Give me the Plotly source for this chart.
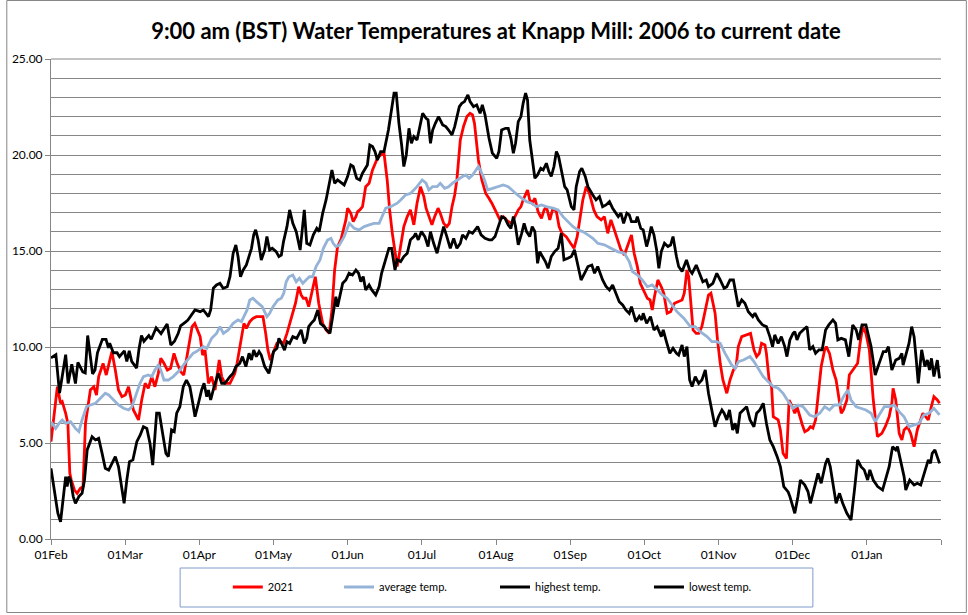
import plotly.graph_objects as go

TITLE = "9:00 am (BST) Water Temperatures at Knapp Mill: 2006 to current date"
TICK_LABELS = ["01Feb", "01Mar", "01Apr", "01May", "01Jun", "01Jul", "01Aug",
               "01Sep", "01Oct", "01Nov", "01Dec", "01Jan", ""]
SERIES_NAMES = ["2021", "average temp.", "highest temp.", "lowest temp."]

# ---- highest temp. (day index from 01Feb, value) ----
HI_DAY = [0, 2, 3.5, 6, 7, 8.5, 10, 11, 13, 14, 15, 17, 18, 19, 21, 22.5, 23.5, 24, 25.5, 27, 28, 30, 31, 32, 33, 35, 36, 37, 38, 40, 41, 43, 45, 46, 47.5, 49, 50.5, 52, 53, 55, 56,
          58.9, 61, 62.3, 64.4, 65.3, 66.4, 67.7, 69.1, 70.4, 72.1, 73.2, 74.5, 75.6, 76.5, 77.5, 78.6, 79.9, 81, 82, 82.9, 83.7, 84.7, 86, 87.4, 88.3, 89.4, 90.5, 92.1, 93.2, 94.2, 95.1, 96.5, 97.6, 98.9, 100.3, 101.9, 103.6, 104.6, 105.9, 107.3, 108.7, 109.7, 111.1, 112.5, 113.8, 114.9, 116, 117.2,
          119.9, 121.3, 122.6, 123.6, 125, 126.3, 127.4, 128.5, 129.4, 130.4, 131.5, 132.5, 133.5, 134.8, 136.2, 138, 139.3, 140.3, 141.2, 142.3, 143.4, 144.3, 145.3, 146.4, 147.4, 148.4, 149.7, 151.1, 152, 153.4, 154.2, 155.2, 156.1, 157.2, 158.5, 160.2, 161.5, 162.6, 164, 165.1, 166, 167, 168, 169.1, 170.5, 171.4, 172.8, 174.1, 175.5, 176.4, 177.5, 179.1, 180.5,
          181.3, 182.3, 183.2, 184.3, 185.9, 187, 188.1, 189.1, 190, 191.1, 192.2, 193.1, 194.1, 194.9, 195.8, 196.5, 197.9, 199, 200.3, 201.3, 202.6, 203.6, 204.6, 205.7, 206.7, 207.6, 208.7, 210.1, 211.1, 212.8, 213.9, 214.8, 216.2, 217.1, 218.5, 219.6, 221.6, 222.9, 224.3, 225.6, 227, 228.4, 229.7, 231.1, 232, 233.1, 234.2, 235.5, 236.5, 237.4, 239.2,
          239.8, 241.2, 242.2, 243.6, 244.5, 245.5, 246.6, 247.7, 248.6, 249.6, 250.9, 252.3, 253.4, 254.4, 255.8, 256.7, 258.1, 259.9, 261.2, 262.2, 263.9, 265.3, 266.6, 268, 268.9, 270.7, 272.3, 273.7, 275.3, 276.4, 277.7, 279.1, 280.2, 281.1, 282.5, 283.8, 285.2, 287, 287.9, 289.3, 291, 292.6, 294, 295.1, 296, 297.4, 298.7, 300.1, 301,
          302.2, 303.5, 304.2, 305.1, 306.2, 307.6, 309.2, 310.3, 311.6, 312.7, 314.1, 315.4, 316.8, 318.1, 319.8, 320.9, 321.8, 323.2, 324.9, 326.3, 327.9, 329.3, 330.3, 331.7, 333.3, 335.4, 336.3, 337.1, 338.7, 340.4, 341.5, 342.5, 343.9, 345.5, 346.9, 348, 348.5, 349.9, 350.9, 352, 353, 353.9, 354.7, 356.1, 357.4, 358.4, 359.3, 360.1, 361.1, 362.5, 363.4]
HI_VAL = [9.43, 9.6, 7.6, 9.6, 8.1, 9.1, 8.1, 9.2, 8.7, 8.65, 10.6, 8.6, 8.8, 9.7, 10.4, 10.4, 9.95, 10.2, 9.7, 9.7, 9.5, 9.8, 9.25, 9.8, 9.25, 8.9, 9.9, 10.6, 10.3, 10.6, 10.4, 11.0, 10.7, 10.9, 11.2, 10.1, 10.3, 10.7, 11.1, 11.3, 11.4,
          11.93, 11.84, 11.93, 11.58, 11.93, 13.06, 13.23, 13.32, 13.06, 13.14, 13.66, 14.88, 15.31, 14.71, 13.66, 14.01, 14.27, 14.79, 15.14, 15.84, 16.1, 15.58, 14.53, 15.05, 15.75, 15.05, 15.14, 14.97, 14.71, 14.79, 15.49, 16.27, 17.14, 16.44, 16.01, 15.05, 17.14, 15.4, 15.31, 15.84, 16.18, 16.01, 16.96, 17.66, 18.53, 19.22, 18.53, 18.7,
          18.44, 18.88, 19.48, 19.4, 18.79, 18.7, 19.05, 19.31, 19.48, 20.52, 20.44, 20.18, 19.74, 20.18, 20.18, 21.3, 22.52, 23.22, 23.22, 21.65, 20.52, 19.4, 20.0, 21.39, 20.61, 20.96, 20.78, 21.65, 22.17, 21.91, 21.83, 20.61, 21.3, 21.65, 22.0, 21.57, 21.48, 21.3, 21.05, 21.48, 21.91, 22.52, 22.69, 22.78, 23.13, 22.78, 22.52, 22.61, 22.17, 22.61, 22.09, 20.9, 20.1,
          20.0, 19.83, 20.18, 21.3, 21.39, 21.39, 20.87, 20.09, 20.61, 21.74, 22.0, 22.69, 23.22, 22.87, 20.78, 20.09, 18.79, 18.96, 19.31, 19.22, 19.57, 19.14, 18.88, 19.4, 20.18, 19.92, 19.22, 18.35, 18.18, 17.31, 17.14, 18.35, 19.14, 19.31, 18.88, 18.35, 17.92, 17.66, 17.83, 17.31, 17.4, 17.57, 17.23, 16.97, 16.79, 16.97, 16.44, 16.97, 16.88, 16.53, 16.53,
          16.79, 16.18, 16.1, 15.23, 15.66, 16.27, 15.84, 15.05, 14.1, 14.97, 15.4, 15.23, 15.31, 15.75, 14.71, 14.19, 13.93, 14.53, 14.01, 13.84, 14.27, 13.84, 13.4, 13.49, 13.14, 13.32, 13.84, 13.49, 13.06, 13.14, 13.49, 13.49, 12.8, 12.1, 12.45, 12.28, 11.84, 11.58, 11.76, 11.41, 11.15, 11.06, 10.54, 10.02, 10.63, 10.19, 10.54, 10.02, 9.5,
          10.37, 10.71, 10.8, 10.37, 10.71, 10.89, 11.06, 9.85, 10.02, 9.67, 9.85, 9.85, 10.89, 11.15, 11.41, 11.23, 10.37, 10.45, 10.37, 9.5, 11.15, 10.89, 10.37, 11.15, 11.15, 10.02, 9.32, 8.54, 9.15, 9.76, 9.76, 10.02, 8.8, 9.32, 9.41, 9.67, 9.06, 9.67, 10.19, 11.06, 10.54, 9.32, 8.11, 9.85, 8.98, 9.32, 8.8, 9.41, 8.46, 9.32, 8.37]

# ---- 2021 ----
Y21_DAY = [0, 2.6, 3.9, 4.6, 6, 6.9, 7.7, 8.3, 9.6, 10.7, 12, 13.1, 14.1, 16.1, 17.5, 18.6, 19.5, 21.3, 22.6, 23.6, 24.9, 26.3, 27.6, 29, 30.4, 31.7, 33.7, 35.8, 37.1, 38.5, 39.8, 41.2, 42.5, 43.9, 44.9, 46.2, 47.6, 48.9, 50.3, 51.6, 53, 54.3, 55.7, 57.7, 58.8, 60.2,
           61, 62, 63, 64.4, 65.7, 67.1, 68, 68.8, 69.8, 71.1, 73.2, 75.2, 76.1, 77.5, 78.9, 79.9, 81.3, 82.6, 84, 85.6, 86.7, 87.8, 88.7, 89.7, 91, 92.4, 93.8, 95.1, 96.5, 98.2, 100, 101.3, 102.3, 103.2, 104.3, 105.4, 106.4, 107.3, 108.1, 109.5, 111.1, 112.5, 113.8, 114.9, 116, 117.2, 118.6,
           120.6, 121.3, 122.6, 123.6, 124.7, 125.4, 126.3, 127.4, 128.7, 130.1, 131.5, 132.5, 133.5, 134.8, 136.2, 137.5, 138.5, 139.6, 140.7, 141.6, 142.3, 143.4, 144.3, 145.7, 147, 148.4, 149.7, 151.1, 152.5, 153.4, 154.5, 155.8, 156.9, 158.3, 159.2, 160.6, 161.9, 162.9, 164, 165.1, 166, 167.4, 168.7, 170.1, 171.4, 172.4, 173.2, 174.8, 176.2, 177.8, 179.1, 180.3,
           182.3, 183.6, 185, 187, 188.4, 189.7, 191.1, 192.2, 193.1, 194.9, 195.8, 196.8, 197.9, 199.2, 200.6, 201.7, 202.6, 204, 205.3, 206.7, 207.8, 209, 210.7, 212.5, 213.9, 215.2, 216.2, 217.5, 218.9, 220.2, 222, 223.3, 225, 226.3, 227.7, 229, 230.4, 231.7, 233.1, 234.5, 235.8, 237.4, 238.5, 239.8, 241,
           242.2, 243.9, 245, 245.9, 246.8, 248.2, 249.6, 250.6, 252, 253.4, 255, 256.7, 258.1, 259, 260.1, 260.8, 261.5, 262.6, 263.9, 264.9, 266.2, 267.6, 268.9, 269.9, 271.6, 272.6, 273.7, 274.8, 275.7, 276.4, 277.7, 279.1, 280.2, 281.1, 282.5, 284.2, 286.1, 287.5, 288.6, 289.7, 290.6, 292, 292.6, 293.7, 294.7, 295.4, 297.4, 298.3, 299.4, 300.8,
           301.9, 303.2, 304.2, 305.1, 305.9, 306.5, 307.3, 308.3, 309.6, 310.6, 311.6, 312.7, 313.7, 315, 316.4, 317.1, 318.4, 319.8, 321.1, 322.2, 323.2, 324.1, 325.5, 326.5, 328.6, 329.9, 330.9, 332, 333.3, 334.7, 336.3, 338, 339.8, 341.2, 342.8, 343.9, 344.4, 345.5, 346.9, 348, 348.9, 350.3, 351.6, 353, 354.3, 355.7, 356.6, 357.7, 358.8, 359.7, 361.1, 362.5, 363.4]
Y21_VAL = [5.07, 7.93, 7.07, 7.15, 6.55, 6.02, 3.42, 3.07, 2.55, 2.38, 2.64, 2.73, 6.02, 7.76, 7.93, 7.5, 8.46, 9.15, 8.54, 9.15, 9.76, 8.8, 7.76, 7.41, 7.5, 7.93, 6.72, 6.2, 7.24, 8.11, 7.85, 8.46, 7.93, 8.63, 9.41, 9.15, 8.8, 8.89, 9.67, 9.15, 8.72, 8.54, 9.5, 11.06, 11.23, 10.8,
           10.54, 9.58, 9.84, 8.11, 8.46, 7.76, 8.63, 9.32, 8.46, 8.11, 8.11, 8.63, 9.15, 10.1, 11.23, 10.97, 11.32, 11.49, 11.58, 11.58, 11.58, 10.71, 9.85, 9.32, 9.76, 10.19, 10.28, 10.19, 10.71, 11.41, 12.28, 13.14, 12.71, 12.54, 12.54, 12.1, 12.62, 13.14, 13.66, 12.28, 11.23, 10.89, 10.71, 11.93, 14.01, 15.23, 15.6,
           16.62, 17.23, 16.97, 16.53, 16.79, 17.05, 17.14, 17.31, 18.35, 18.53, 19.22, 19.57, 19.83, 20.0, 20.09, 18.7, 17.14, 15.92, 15.06, 14.19, 14.71, 15.58, 16.27, 16.79, 17.14, 16.36, 17.49, 18.35, 17.83, 17.23, 16.79, 16.36, 16.79, 17.23, 16.97, 16.44, 16.27, 16.44, 17.31, 17.92, 18.7, 20.78, 21.48, 22.0, 22.17, 22.09, 21.65, 19.74, 18.7, 18.0, 17.75, 17.49,
           16.97, 16.62, 16.79, 16.53, 16.44, 16.79, 17.14, 17.31, 17.66, 18.18, 17.66, 17.49, 17.75, 17.05, 16.7, 17.14, 17.31, 16.62, 17.23, 17.05, 16.27, 15.92, 15.75, 15.4, 15.14, 15.75, 16.62, 17.66, 18.35, 18.0, 17.14, 16.79, 16.62, 16.79, 15.92, 16.62, 16.1, 15.58, 15.06, 14.79, 15.23, 15.84, 14.88, 14.2, 13.32,
           12.97, 12.54, 12.45, 11.93, 12.62, 13.49, 13.14, 12.8, 11.76, 11.84, 12.28, 12.36, 12.45, 12.8, 14.01, 13.66, 12.62, 10.89, 10.71, 10.71, 11.06, 11.93, 12.71, 12.8, 11.76, 10.37, 9.15, 8.28, 7.94, 7.59, 8.28, 8.8, 8.98, 10.02, 10.54, 10.63, 10.71, 9.85, 9.5, 9.67, 10.19, 10.11, 9.67, 8.28, 7.94, 6.37, 6.2, 5.68, 4.46, 4.2,
           7.24, 6.89, 6.55, 6.89, 6.55, 6.2, 5.94, 5.59, 5.68, 5.85, 5.77, 6.2, 7.59, 8.98, 9.85, 10.02, 9.67, 8.8, 8.28, 7.41, 6.55, 6.72, 7.24, 8.54, 8.89, 9.15, 10.2, 11.06, 10.71, 9.85, 7.24, 5.33, 5.5, 5.85, 6.37, 7.07, 7.85, 7.24, 5.5, 5.16, 5.68, 5.85, 5.5, 4.81, 5.68, 6.2, 6.55, 6.37, 6.2, 6.72, 7.41, 7.24, 7.07]

# ---- average temp. ----
AVG_DAY = [0, 1.9, 3.3, 4.6, 6, 8, 10, 11.4, 12.7, 14.5, 16.1, 18.2, 20.2, 22.2, 23.6, 24.9, 26.3, 27.6, 29.7, 31.7, 33.1, 35.1, 36.4, 37.8, 39.8, 41.2, 42.5, 43.9, 44.9, 46.2, 48, 50, 51.4, 52.7, 54.7, 56.8, 58.1, 59.5,
           60.3, 62.3, 63.7, 65.7, 67.7, 69.1, 70.5, 72.5, 74.5, 76.5, 77.9, 79.3, 80.2, 81.3, 82.6, 84, 85.4, 86.4, 88.3, 89.4, 90.8, 92.8, 94.2, 95.2, 96.2, 97.3, 98.9, 100.3, 101.6, 103, 104.3, 105.7, 107, 108.4, 110, 111.4, 113.1, 114.5, 115.4, 116.5, 117.9, 119.2,
           119.9, 122, 124, 126, 128.1, 130.1, 132.1, 134.2, 135.5, 136.9, 138.9, 141.6, 143, 145, 147, 149.7, 151.8, 153.4, 154.5, 156.1, 157.9, 159.2, 161, 162.6, 164.2, 166, 167, 168.3, 169.7, 171, 172.4, 173.7, 174.8, 175.9, 177.3, 178.6,
           181, 183, 185, 187, 189.1, 190.8, 192.5, 194.5, 196.5, 198.5, 200.6, 202.6, 205.3, 207.4, 209.4, 211.4, 213.5, 215.5, 217.5, 219.6, 221.6, 223.6, 226.3, 229, 231.7, 234.5, 236.5, 237.8, 239.9,
           241.8, 243.9, 245.9, 247.9, 250, 252, 254, 256, 258.8, 261.5, 263.5, 265.5, 268.3, 270.3, 272.3, 273.7, 275.7, 278.4, 279.8, 281.1, 283.2, 285.9, 287.5, 289.3, 291.3, 293.3, 295.4, 297.4, 299.4, 300.8,
           302.2, 303.5, 305.5, 307.6, 310.3, 312.3, 314.4, 316.4, 318.4, 320.4, 322.5, 324.1, 325.9, 327.2, 329.3, 331.3, 333.3, 335.4, 337.1, 338.7, 340.8, 342.8, 344.8, 346.9, 348.9, 350.9, 353, 355, 357, 359.1, 361.1, 363.4]
AVG_VAL = [6.11, 5.76, 6.02, 6.2, 6.02, 6.11, 5.76, 5.59, 6.2, 6.89, 6.98, 7.07, 7.33, 7.59, 7.5, 7.33, 7.15, 6.98, 6.81, 6.72, 6.89, 7.59, 8.11, 8.46, 8.54, 8.46, 8.8, 9.06, 8.8, 8.28, 8.28, 8.46, 8.63, 8.8, 9.15, 9.5, 9.67, 9.76,
           9.84, 10.02, 9.93, 10.45, 10.71, 11.06, 10.71, 10.89, 11.23, 11.41, 11.32, 11.75, 11.93, 12.45, 12.54, 12.36, 12.19, 12.1, 11.58, 11.75, 12.1, 12.45, 12.54, 12.8, 13.4, 13.66, 13.75, 13.4, 13.58, 13.32, 13.49, 13.66, 13.66, 14.19, 14.53, 15.14, 15.57, 15.66, 15.4, 15.23, 15.31, 15.57,
           15.75, 16.44, 16.18, 16.1, 16.27, 16.36, 16.44, 16.44, 16.79, 17.23, 17.31, 17.49, 17.66, 17.92, 18.0, 18.35, 18.7, 18.53, 18.18, 18.35, 18.35, 18.53, 18.27, 18.35, 18.53, 18.7, 18.79, 18.88, 18.96, 18.79, 18.96, 19.22, 19.4, 19.14, 18.7, 18.18,
           18.27, 18.35, 18.44, 18.35, 18.09, 17.92, 17.75, 17.57, 17.49, 17.31, 17.4, 17.31, 17.23, 17.14, 16.79, 16.53, 16.27, 16.1, 16.01, 15.84, 15.66, 15.4, 15.32, 15.14, 14.97, 14.88, 14.45, 13.93, 13.75,
           13.49, 13.14, 13.23, 12.97, 12.71, 12.54, 12.19, 11.84, 11.5, 11.06, 11.06, 10.8, 10.54, 10.28, 10.28, 10.19, 9.67, 9.06, 8.89, 9.24, 9.32, 9.5, 9.24, 8.89, 8.46, 8.2, 7.94, 7.85, 7.59, 7.3,
           7.07, 6.81, 6.98, 6.89, 6.46, 6.37, 6.55, 6.89, 6.72, 6.98, 6.98, 7.41, 7.76, 7.24, 6.89, 6.81, 6.72, 6.55, 6.11, 6.46, 6.89, 6.89, 6.98, 6.63, 6.37, 5.85, 5.94, 6.02, 6.46, 6.55, 6.81, 6.46]

# ---- lowest temp. ----
LO_DAY = [0, 1.2, 2.8, 3.9, 5, 6, 6.6, 7.3, 8, 9.1, 10, 11.4, 12.7, 13.7, 14.8, 15.9, 16.8, 18.2, 19.5, 20.9, 22.2, 23.6, 24.9, 26.3, 27.6, 29, 29.9, 31, 32.1, 33.5, 35.1, 36.5, 37.8, 39.2, 40.5, 41.6, 43.2, 44.3, 45.7, 47, 48, 49.3, 50.4, 51.4, 52.7, 54.1, 55.4, 56.8,
          58, 58.9, 60.3, 61.6, 62.6, 63.7, 64.4, 65.3, 66.7, 68.4, 69.8, 71.1, 73.2, 74.5, 75.6, 77.2, 78.3, 79.7, 81, 82, 82.9, 84, 85.1, 86, 87.4, 89.1, 90.1, 91, 92.4, 93.2, 94.6, 95.5, 96.5, 97.6, 98.9, 100.5, 102.3, 103.6, 104.6, 105.4, 106.4, 107.7, 109.1, 110.2, 111.8, 112.7, 114.1, 116.5, 117.2,
          119.3, 120.6, 121.9, 123.3, 124.7, 125.8, 126.7, 127.7, 128.7, 130.1, 131.2, 132.8, 134.2, 135.2, 136.9, 138.2, 139.3, 140.7, 141.6, 143, 144.3, 145.7, 147, 148.4, 149.1, 150.2, 151.5, 152.9, 154.2, 155.2, 156.5, 157.9, 159.2, 160.6, 161.9, 163.3, 164.7, 166, 167.4, 168.3, 169.7, 171, 172.4, 174.5, 175.9, 177.5, 179.2,
          180.3, 181.6, 183, 184.3, 185.7, 187, 188.1, 189.1, 190, 191.1, 192.5, 193.5, 194.5, 195.8, 196.8, 197.9, 199, 199.9, 201, 202.2, 203.3, 204.6, 206, 207.4, 208.7, 209.8, 211.4, 212.8, 214.1, 215.5, 216.8, 218.2, 219.6, 221.2, 222.3, 223.6, 225.6, 227, 228.4, 229.7, 231.1, 232.4, 233.8, 235.1, 236.5, 237.4, 239.2,
          240.6, 241.6, 242.2, 243.6, 245.2, 246.6, 247.9, 249.6, 250.4, 251.7, 253.1, 254.4, 255.8, 256.7, 258.1, 259, 260.1, 261.2, 262.2, 263.5, 264.9, 266.2, 267.6, 268.9, 270.3, 271.6, 273, 274.4, 275.3, 276.4, 277.5, 278.8, 279.8, 280.7, 281.8, 283.2, 284.5, 285.9, 287.5, 288.6, 289.9, 291.3, 292.6, 294, 295.4, 297, 298.3, 299.7, 301.5,
          302.2, 304.2, 305.5, 306.5, 308.3, 309.6, 310.6, 311.9, 313.7, 315, 316.8, 317.7, 318.7, 320, 321.1, 322.5, 323.8, 325.5, 327.2, 328.6, 329.9, 331.3, 332.6, 334, 334.9, 336.3, 338.1, 340.1, 341.5, 342.8, 344.2, 345.5, 346.2, 347.5, 348.9, 349.6, 351.2, 353, 354.3, 355.7, 357.4, 358.8, 359.7, 360.4, 361.5, 362.5, 363.4]
LO_VAL = [3.68, 2.73, 1.34, 0.9, 2.03, 3.25, 2.73, 3.25, 3.07, 2.21, 1.86, 2.21, 2.38, 3.07, 4.64, 4.98, 5.33, 5.16, 5.24, 4.46, 3.68, 3.59, 3.94, 4.29, 3.77, 2.73, 1.86, 3.07, 4.03, 4.12, 5.07, 5.42, 5.85, 5.76, 4.98, 3.85, 6.55, 6.55, 5.5, 4.46, 4.29, 5.68, 5.59, 6.55, 6.89, 7.93, 8.28, 7.93,
          7.07, 6.37, 7.07, 7.76, 8.11, 7.41, 7.76, 7.24, 7.93, 8.63, 8.11, 8.11, 8.46, 8.63, 8.98, 9.15, 9.5, 8.98, 9.67, 9.32, 9.84, 9.5, 9.76, 9.58, 8.98, 8.63, 9.15, 9.76, 9.93, 10.45, 10.1, 9.84, 10.28, 10.19, 10.54, 10.45, 10.89, 10.19, 10.45, 11.06, 11.23, 11.41, 11.93, 11.23, 11.06, 10.89, 10.71, 12.62, 12.1,
          13.32, 13.49, 13.84, 13.75, 14.01, 13.84, 13.41, 13.67, 12.97, 13.23, 12.97, 12.71, 13.15, 13.84, 14.54, 15.14, 15.14, 14.01, 14.54, 14.45, 14.71, 14.88, 15.58, 15.75, 15.92, 15.58, 16.01, 15.75, 15.23, 16.01, 15.4, 14.88, 15.58, 16.27, 15.75, 15.14, 15.66, 15.14, 15.4, 15.84, 15.66, 16.01, 15.92, 16.27, 15.84, 15.66, 15.58,
          15.58, 15.75, 16.27, 16.79, 16.7, 16.36, 16.18, 16.79, 16.27, 15.32, 15.92, 16.44, 16.01, 15.75, 16.27, 16.01, 14.36, 14.97, 14.71, 14.45, 14.1, 14.71, 14.97, 15.14, 15.92, 14.54, 14.62, 14.71, 15.06, 14.19, 13.49, 13.84, 14.19, 14.27, 13.84, 14.19, 13.49, 13.15, 12.97, 13.23, 12.8, 12.36, 12.19, 11.93, 11.75, 12.1, 11.32,
          11.6, 11.41, 11.76, 11.23, 11.58, 10.89, 11.06, 10.54, 10.89, 10.28, 9.67, 9.93, 9.67, 9.58, 10.11, 9.5, 10.02, 8.28, 7.94, 8.46, 8.11, 8.28, 8.8, 7.59, 6.72, 5.85, 6.37, 6.72, 6.55, 6.2, 6.72, 5.68, 6.03, 5.5, 6.55, 6.72, 6.89, 6.2, 5.85, 6.55, 6.72, 7.07, 6.03, 5.16, 4.81, 4.29, 3.77, 2.73, 2.45,
          2.21, 1.34, 2.21, 3.07, 2.81, 2.47, 1.86, 2.55, 3.42, 2.9, 3.94, 4.2, 3.77, 2.73, 1.86, 2.38, 1.86, 1.34, 0.99, 2.55, 4.12, 3.77, 3.6, 3.07, 3.6, 3.07, 2.73, 2.55, 3.25, 3.77, 4.81, 4.64, 4.81, 4.12, 3.25, 2.55, 3.07, 2.81, 2.9, 2.81, 3.6, 4.12, 3.94, 4.46, 4.64, 4.29, 3.94]

# ---------------- figure ----------------
X_MAX = 364.0
GRID = "#868686"
FONT = "Lato, 'Open Sans', sans-serif"

series = [
    (SERIES_NAMES[0], Y21_DAY, Y21_VAL, "#ff0000", "legend"),
    (SERIES_NAMES[1], AVG_DAY, AVG_VAL, "#95b3d7", "legend2"),
    (SERIES_NAMES[2], HI_DAY, HI_VAL, "#000000", "legend3"),
    (SERIES_NAMES[3], LO_DAY, LO_VAL, "#000000", "legend4"),
]

fig = go.Figure()
for name, xs, ys, col, lg in series:
    fig.add_trace(go.Scatter(x=xs, y=ys, mode="lines", name=name,
                             line=dict(color=col, width=2.8),
                             legend=lg, hoverinfo="skip"))

W, H = 968, 615
L, R, T, B = 45, 27, 59, 76
pw, ph = W - L - R, H - T - B

def px_x(p):
    return (p - L) / pw

def px_y(p):
    return (H - B - p) / ph

legend_common = dict(orientation="h", yanchor="middle", xanchor="left",
                     bgcolor="rgba(0,0,0,0)", borderwidth=0,
                     font=dict(family=FONT, size=11, color="#000"),
                     itemwidth=30, tracegroupgap=0)
legend_x = [223, 335, 492, 647]

fig.update_layout(
    width=W, height=H,
    margin=dict(l=L, r=R, t=T, b=B),
    paper_bgcolor="#ffffff", plot_bgcolor="#ffffff",
    title=dict(text="<b>" + TITLE + "</b>", x=0.5, xref="paper",
               y=1 - 31 / H, yref="container", xanchor="center", yanchor="middle",
               font=dict(family=FONT, size=22, color="#000")),
    showlegend=True,
    legend=dict(x=px_x(legend_x[0]), y=px_y(587), **legend_common),
    legend2=dict(x=px_x(legend_x[1]), y=px_y(587), **legend_common),
    legend3=dict(x=px_x(legend_x[2]), y=px_y(587), **legend_common),
    legend4=dict(x=px_x(legend_x[3]), y=px_y(587), **legend_common),
    xaxis=dict(range=[0, X_MAX], tickmode="array",
               tickvals=[i * X_MAX / 12 for i in range(13)], ticktext=TICK_LABELS,
               showgrid=False, zeroline=False, showline=True, linecolor=GRID, linewidth=1,
               ticks="outside", ticklen=5, tickcolor=GRID,
               tickfont=dict(family=FONT, size=12, color="#000")),
    yaxis=dict(range=[0, 25], tick0=0, dtick=5, tickformat=".2f",
               showgrid=True, gridcolor=GRID, gridwidth=1,
               zeroline=False, showline=True, linecolor=GRID, linewidth=1,
               ticks="outside", ticklen=5, tickcolor=GRID,
               minor=dict(dtick=1, showgrid=True, gridcolor=GRID, gridwidth=1),
               tickfont=dict(family=FONT, size=12, color="#000")),
    shapes=[
        dict(type="rect", xref="paper", yref="paper",
             x0=px_x(175), x1=px_x(812), y0=px_y(607), y1=px_y(568),
             line=dict(color="#7f9ccb", width=1), fillcolor="rgba(0,0,0,0)", layer="below"),
        dict(type="rect", xref="paper", yref="paper",
             x0=px_x(0.5), x1=px_x(966.5), y0=px_y(612.5), y1=px_y(0.5),
             line=dict(color=GRID, width=1), fillcolor="rgba(0,0,0,0)", layer="below"),
        dict(type="line", xref="paper", yref="paper", x0=0, x1=1, y0=1, y1=1,
             line=dict(color=GRID, width=1), layer="below"),
    ],
)

fig.write_html("out.html")
